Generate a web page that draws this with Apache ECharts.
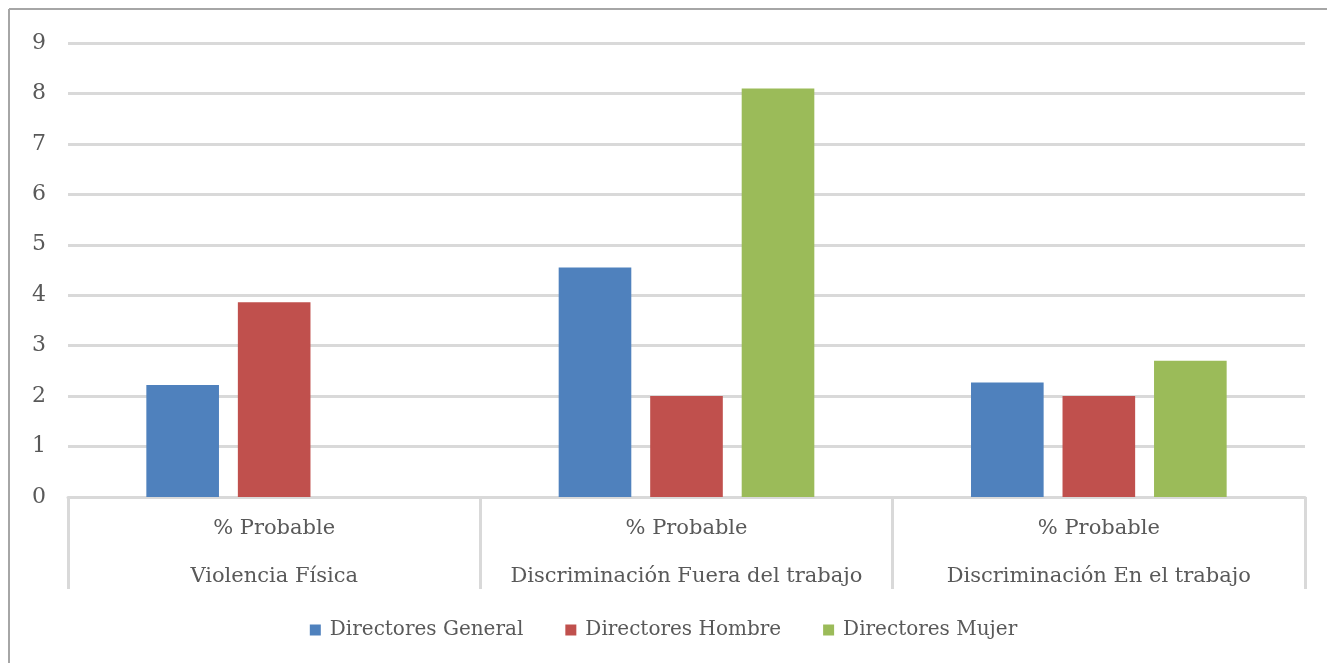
<!DOCTYPE html>
<html>
<head>
<meta charset="utf-8">
<script src="https://cdn.jsdelivr.net/npm/echarts@6/dist/echarts.min.js"></script>
<style>html,body{margin:0;padding:0;background:#fff;}#c{width:1327px;height:663px;}</style>
</head>
<body>
<div id="c"></div>
<script>
const categories = ['Violencia Física', 'Discriminación Fuera del trabajo', 'Discriminación En el trabajo'];
const subLabel = '% Probable';
const seriesNames = ['Directores General', 'Directores Hombre', 'Directores Mujer'];
const general = [2.22, 4.55, 2.27];
const hombre = [3.86, 2.0, 2.0];
const mujer = [0, 8.1, 2.7];
const colors = ['#4f81bd', '#c0504d', '#9bbb59'];

const FONT = '"DejaVu Serif", "Liberation Serif", serif';
const chart = echarts.init(document.getElementById('c'));
const values = [general, hombre, mujer];
chart.setOption({
  animation: false,
  textStyle: { fontFamily: FONT, color: '#595959' },
  graphic: [
    { type: 'line', shape: { x1: 9, y1: 9, x2: 1327, y2: 9 }, style: { stroke: '#a6a6a6', lineWidth: 2 } },
    { type: 'line', shape: { x1: 9, y1: 9, x2: 9, y2: 663 }, style: { stroke: '#a6a6a6', lineWidth: 2 } }
  ],
  grid: { left: 68, right: 22, top: 43, bottom: 166 },
  legend: {
    bottom: 18, left: 'center', itemWidth: 11, itemHeight: 11, itemGap: 42,
    icon: 'rect',
    textStyle: { fontFamily: FONT, fontSize: 20, color: '#595959', padding: [0, 0, 0, 4] },
    data: seriesNames
  },
  xAxis: {
    type: 'category',
    data: categories,
    axisLine: { lineStyle: { color: '#d9d9d9', width: 3 } },
    axisTick: { show: true, length: 92, interval: 0, lineStyle: { color: '#d9d9d9', width: 3 } },
    axisLabel: {
      interval: 0, margin: 8,
      fontFamily: FONT, fontSize: 21, color: '#595959', lineHeight: 48,
      formatter: v => subLabel + '\n' + v
    }
  },
  yAxis: {
    type: 'value', min: 0, max: 9, interval: 1,
    axisLine: { show: false }, axisTick: { show: false },
    splitLine: { lineStyle: { color: '#d9d9d9', width: 3 } },
    axisLabel: { fontFamily: FONT, fontSize: 22, color: '#595959', margin: 22 }
  },
  series: seriesNames.map((n, i) => ({
    name: n, type: 'bar', data: values[i],
    barGap: '26%', barCategoryGap: '38%',
    itemStyle: { color: colors[i] }
  }))
});
</script>
</body>
</html>
